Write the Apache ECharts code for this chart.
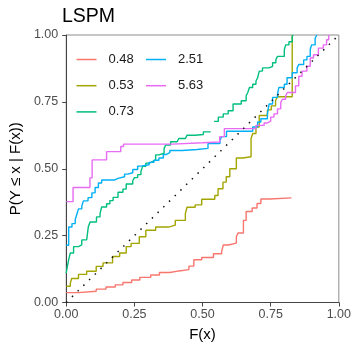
<!DOCTYPE html>
<html>
<head>
<meta charset="utf-8">
<script src="https://cdn.jsdelivr.net/npm/echarts@6/dist/echarts.min.js"></script>
<style>html,body{margin:0;padding:0;background:#fff;}#chart{width:354px;height:347px;}</style>
</head>
<body>
<div id="chart"></div>
<script>
// ---- data ----
var seriesNames = ['0.48', '0.53', '0.73', '2.51', '5.63'];
var seriesColors = ['#F8766D', '#A3A500', '#00BF7D', '#00B0F6', '#E76BF3'];
var axisTicks = [0, 0.25, 0.5, 0.75, 1];

var s048X = [0, 0.045, 0.11, 0.146, 0.18, 0.208, 0.24, 0.27, 0.31, 0.342, 0.38, 0.414, 0.45, 0.468, 0.497, 0.54, 0.57, 0.576, 0.595, 0.624, 0.63, 0.65, 0.66, 0.682, 0.70, 0.714, 0.747, 0.826];
var s048Y = [0.037, 0.042, 0.05, 0.058, 0.066, 0.075, 0.084, 0.094, 0.103, 0.112, 0.118, 0.123, 0.136, 0.16, 0.168, 0.182, 0.19, 0.215, 0.222, 0.246, 0.26, 0.307, 0.34, 0.353, 0.37, 0.387, 0.391, 0.391];

var s053X = [0, 0.015, 0.02, 0.045, 0.075, 0.11, 0.135, 0.17, 0.196, 0.22, 0.238, 0.268, 0.292, 0.328, 0.376, 0.40, 0.437, 0.443, 0.473, 0.497, 0.545, 0.557, 0.575, 0.587, 0.60, 0.624, 0.648, 0.678, 0.684, 0.696, 0.708, 0.738, 0.752, 0.768, 0.775, 0.829];
var s053Y = [0.061, 0.072, 0.09, 0.105, 0.117, 0.135, 0.148, 0.172, 0.185, 0.209, 0.221, 0.246, 0.27, 0.282, 0.289, 0.307, 0.332, 0.356, 0.365, 0.386, 0.40, 0.425, 0.45, 0.47, 0.50, 0.54, 0.545, 0.613, 0.632, 0.656, 0.699, 0.72, 0.735, 0.755, 0.769, 1.0];

var s073X = [0, 0.004, 0.009, 0.015, 0.027, 0.045, 0.057, 0.075, 0.081, 0.0875, 0.111, 0.124, 0.13, 0.148, 0.16, 0.172, 0.19, 0.208, 0.22, 0.244, 0.25, 0.262, 0.274, 0.28, 0.292, 0.305, 0.316, 0.328, 0.34, 0.359, 0.365, 0.383, 0.407, 0.413, 0.437, 0.443, 0.473, 0.503, 0.515, 0.53,
             0.542, 0.558, 0.576, 0.594, 0.612, 0.642, 0.66, 0.666, 0.672, 0.684, 0.696, 0.702, 0.708, 0.72, 0.744, 0.757, 0.769, 0.775, 0.80, 0.805, 0.817, 0.829, 0.832];
var s073Y = [0.11, 0.134, 0.16, 0.185, 0.209, 0.215, 0.234, 0.24, 0.283, 0.301, 0.32, 0.332, 0.357, 0.369, 0.381, 0.393, 0.412, 0.424, 0.443, 0.455, 0.467, 0.478, 0.49, 0.509, 0.521, 0.527, 0.533, 0.552, 0.558, 0.576, 0.589, 0.601, 0.603, 0.613, 0.616, 0.625, 0.628, 0.638, 0.638, null,
             0.677, 0.693, 0.705, 0.717, 0.742, 0.754, 0.773, 0.785, 0.804, 0.816, 0.828, 0.84, 0.865, 0.877, 0.883, 0.896, 0.908, 0.92, 0.945, 0.963, 0.975, 0.994, 1.0];

var s251X = [0, 0.009, 0.021, 0.033, 0.039, 0.045, 0.057, 0.063, 0.08, 0.094, 0.106, 0.118, 0.13, 0.178, 0.19, 0.214, 0.226, 0.244, 0.262, 0.274, 0.304, 0.322, 0.34, 0.356, 0.366, 0.38, 0.425, 0.48, 0.52, 0.564, 0.57, 0.588, 0.684, 0.702, 0.714, 0.738, 0.744, 0.757, 0.775, 0.78, 0.80, 0.81, 0.829, 0.847, 0.853, 0.871, 0.883, 0.895, 0.90, 0.913, 0.919];
var s251Y = [0.214, 0.282, 0.295, 0.31, 0.33, 0.35, 0.36, 0.38, 0.392, 0.41, 0.43, 0.447, 0.458, 0.464, 0.47, 0.48, 0.485, 0.497, 0.51, 0.515, 0.524, 0.532, 0.54, 0.553, 0.56, 0.568, 0.572, 0.576, 0.594, 0.607, 0.62, 0.64, 0.656, 0.675, 0.687, 0.705, 0.742, 0.767, 0.779, 0.804, 0.816, 0.84, 0.859, 0.877, 0.89, 0.907, 0.92, 0.945, 0.963, 0.988, 1.0];

var s563X = [0, 0.025, 0.087, 0.095, 0.148, 0.20, 0.21, 0.39, 0.50, 0.563, 0.58, 0.696, 0.726, 0.738, 0.75, 0.762, 0.775, 0.787, 0.793, 0.805, 0.811, 0.841, 0.853, 0.865, 0.883, 0.895, 0.907, 0.925, 0.943, 0.955, 0.963];
var s563Y = [0.377, 0.43, 0.466, 0.533, 0.564, 0.583, 0.592, 0.597, 0.60, 0.62, 0.65, 0.662, 0.671, 0.678, 0.693, 0.705, 0.724, 0.748, 0.76, 0.773, 0.785, 0.81, 0.846, 0.865, 0.883, 0.914, 0.926, 0.951, 0.963, 0.982, 1.0];

var refX = [0, 1];
var refY = [0, 1];

// ---- build ----
function zip(xs, ys) {
  return xs.map(function (x, i) { return ys[i] === null ? [x, '-'] : [x, ys[i]]; });
}
var curveX = [s048X, s053X, s073X, s251X, s563X];
var curveY = [s048Y, s053Y, s073Y, s251Y, s563Y];

var FONT = 'Liberation Sans, Arial, sans-serif';
var series = seriesNames.map(function (name, i) {
  return {
    name: name, type: 'line', step: 'end', symbol: 'none',
    data: zip(curveX[i], curveY[i]),
    connectNulls: false,
    lineStyle: { color: seriesColors[i], width: 1.4 },
    itemStyle: { color: seriesColors[i] },
    emphasis: { disabled: true }, animation: false, z: 3
  };
});
series.push({
  name: 'ref', type: 'line', symbol: 'none', data: zip(refX, refY),
  lineStyle: { color: '#111', width: 1.5, type: [1.5, 6.5], cap: 'butt' },
  animation: false, z: 4, silent: true
});

function fmt(v) { return v.toFixed(2); }

var legendText = { fontSize: 13, color: '#1a1a1a', fontFamily: FONT, padding: [0, 0, 0, 7] };
function legendAt(names, left) {
  return {
    data: names.map(function (n) { return { name: n, icon: 'rect' }; }),
    left: left, top: 53, padding: 0, orient: 'vertical', itemWidth: 20, itemHeight: 1.5, itemGap: 13.2,
    textStyle: legendText, selectedMode: false
  };
}
var option = {
  backgroundColor: '#fff',
  animation: false,
  title: { text: 'LSPM', left: 62, top: 7, padding: 0,
    textStyle: { fontSize: 19.5, fontWeight: 'normal', color: '#000', fontFamily: FONT } },
  grid: { left: 62.5, right: 15, top: 35, bottom: 40.5, show: true, borderColor: '#8c8c8c', borderWidth: 1, containLabel: false },
  legend: [legendAt(seriesNames.slice(0, 3), 76.5), legendAt(seriesNames.slice(3), 146)],
  xAxis: {
    type: 'value', min: axisTicks[0], max: axisTicks[axisTicks.length - 1], interval: 0.25,
    name: 'F(x)', nameLocation: 'middle', nameGap: 24.5,
    nameTextStyle: { fontSize: 15, color: '#000', fontFamily: FONT },
    axisLine: { show: true, lineStyle: { color: '#444', width: 1 } },
    axisTick: { show: true, length: 4, lineStyle: { color: '#444' } },
    axisLabel: { formatter: fmt, fontSize: 12.5, color: '#4d4d4d', margin: 6, fontFamily: FONT },
    splitLine: { show: false }
  },
  yAxis: {
    type: 'value', min: axisTicks[0], max: axisTicks[axisTicks.length - 1], interval: 0.25,
    name: 'P(Y \u2264 x | F(x))', nameLocation: 'middle', nameGap: 40, nameRotate: 90,
    nameTextStyle: { fontSize: 15, color: '#000', fontFamily: FONT },
    axisLine: { show: true, lineStyle: { color: '#444', width: 1 } },
    axisTick: { show: true, length: 4, lineStyle: { color: '#444' } },
    axisLabel: { formatter: fmt, fontSize: 12.5, color: '#4d4d4d', margin: 8, fontFamily: FONT },
    splitLine: { show: false }
  },
  series: series
};
var chart = echarts.init(document.getElementById('chart'), null, { renderer: 'canvas' });
chart.setOption(option);
</script>
</body>
</html>
